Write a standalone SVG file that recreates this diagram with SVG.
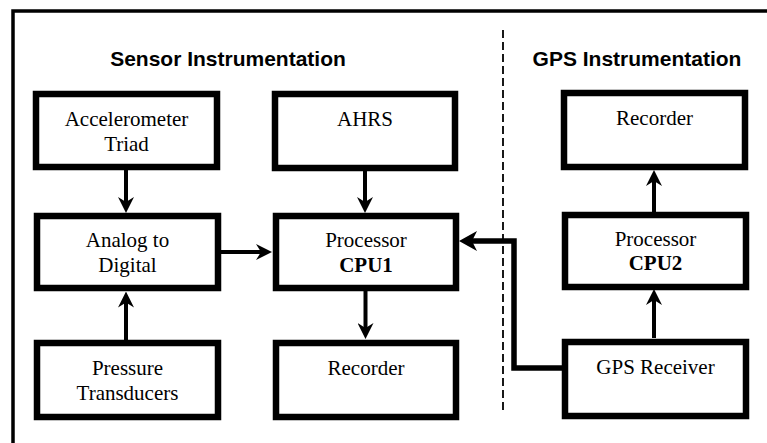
<svg xmlns="http://www.w3.org/2000/svg" width="767" height="443" viewBox="0 0 767 443">
<style>
.box{fill:#fff;stroke:#000;stroke-width:6.5}
.lbl{font-family:'Liberation Serif','Times New Roman',Times,serif;font-size:21px;text-anchor:middle;fill:#000}
.b{font-weight:bold}
.ttl{font-family:'Liberation Sans',Arial,Helvetica,sans-serif;font-size:21px;font-weight:bold;text-anchor:middle;fill:#000}
.conn{fill:none;stroke:#000;stroke-width:4}
.thick{fill:none;stroke:#000;stroke-width:5.5}
</style>
<defs>
<marker id="ah" markerUnits="userSpaceOnUse" markerWidth="16" markerHeight="16" viewBox="0 0 16 16" refX="6" refY="8" orient="auto">
<path d="M0,0 L16,8 L0,16 L5,8 z" fill="#000"/>
</marker>
<marker id="ahb" markerUnits="userSpaceOnUse" markerWidth="18" markerHeight="20" viewBox="0 0 18 20" refX="7" refY="10" orient="auto">
<path d="M0,0 L18,10 L0,20 L5,10 z" fill="#000"/>
</marker>
</defs>
<path d="M13,443 L13,11 L767,11" fill="none" stroke="#000" stroke-width="3.5"/>
<line x1="503" y1="30" x2="503" y2="414" stroke="#000" stroke-width="1.8" stroke-dasharray="8 4"/>
<text class="ttl" x="228" y="66" font-family="Liberation Sans, Arial, sans-serif">Sensor Instrumentation</text>
<text class="ttl" x="637" y="66" font-family="Liberation Sans, Arial, sans-serif">GPS Instrumentation</text>
<g id="accel"><rect class="box" x="36" y="94" width="181" height="73"/><text class="lbl" x="126.5" y="126">Accelerometer</text><text class="lbl" x="126.5" y="151">Triad</text></g>
<g id="ahrs"><rect class="box" x="275" y="94" width="180" height="74"/><text class="lbl" x="365" y="126">AHRS</text></g>
<g id="analog"><rect class="box" x="37" y="216" width="181" height="72"/><text class="lbl" x="127.5" y="247">Analog to</text><text class="lbl" x="127.5" y="272">Digital</text></g>
<g id="pressure"><rect class="box" x="37" y="343" width="181" height="74"/><text class="lbl" x="127.5" y="375">Pressure</text><text class="lbl" x="127.5" y="400">Transducers</text></g>
<g id="cpu1"><rect class="box" x="276" y="216" width="180" height="72"/><text class="lbl" x="366" y="247">Processor</text><text class="lbl b" x="366" y="272">CPU1</text></g>
<g id="rec1"><rect class="box" x="276" y="343" width="180" height="74"/><text class="lbl" x="366" y="375">Recorder</text></g>
<g id="rec2"><rect class="box" x="564" y="93" width="181" height="74"/><text class="lbl" x="654.5" y="125">Recorder</text></g>
<g id="cpu2"><rect class="box" x="565" y="215" width="181" height="72"/><text class="lbl" x="655.5" y="246">Processor</text><text class="lbl b" x="655.5" y="270">CPU2</text></g>
<g id="gpsrx"><rect class="box" x="565" y="342" width="181" height="74"/><text class="lbl" x="655.5" y="374">GPS Receiver</text></g>
<g id="connectors">
<line class="conn" x1="126" y1="170" x2="126" y2="203" marker-end="url(#ah)"/>
<line class="conn" x1="365" y1="171" x2="365" y2="203" marker-end="url(#ah)"/>
<line class="conn" x1="221" y1="252" x2="262" y2="252" marker-end="url(#ah)"/>
<line class="conn" x1="365.5" y1="291" x2="365.5" y2="329" marker-end="url(#ah)"/>
<line class="conn" x1="126" y1="340" x2="126" y2="301.5" marker-end="url(#ah)"/>
<line class="conn" x1="654" y1="338" x2="654" y2="299" marker-end="url(#ah)"/>
<line class="conn" x1="654" y1="212" x2="654" y2="180" marker-end="url(#ah)"/>
<path class="thick" d="M562,368 L514,368 L514,241 L470,241" marker-end="url(#ahb)"/>
</g>
</svg>
